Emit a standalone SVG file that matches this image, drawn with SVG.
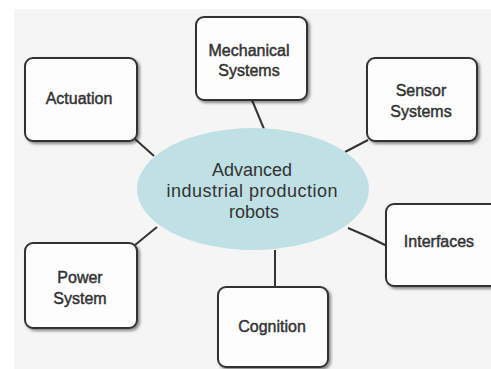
<svg xmlns="http://www.w3.org/2000/svg" width="491" height="369" viewBox="0 0 491 369">
<defs>
<filter id="sh" x="-20%" y="-20%" width="140%" height="140%">
<feDropShadow dx="2" dy="2" stdDeviation="1.5" flood-color="#000" flood-opacity="0.45"/>
</filter>
<style>
.box{fill:#fdfdfd;stroke:#333;stroke-width:2;filter:url(#sh)}
.lbl{font-family:"Liberation Sans",Arial,sans-serif;font-size:16px;fill:#333;stroke:#333;stroke-width:0.45;text-anchor:middle}
.ctr{font-family:"Liberation Sans",Arial,sans-serif;font-size:18px;fill:#333;text-anchor:middle}
.con{stroke:#333;stroke-width:2;fill:none}
</style>
</defs>
<rect width="491" height="369" fill="#ffffff"/>
<rect x="14" y="9" width="477" height="360" fill="#f5f5f5"/>
<g id="connectors">
<line class="con" x1="252" y1="100" x2="264" y2="129"/>
<line class="con" x1="135" y1="139" x2="154" y2="156"/>
<line class="con" x1="368" y1="140" x2="345" y2="152"/>
<path class="con" d="M348,228 Q368,236 387,246"/>
<line class="con" x1="157" y1="227" x2="135" y2="245"/>
<line class="con" x1="275" y1="250" x2="275" y2="287"/>
</g>
<g id="center">
<ellipse cx="253" cy="189" rx="116" ry="61" fill="#bfe0e5"/>
<text class="ctr" x="252" y="176">Advanced</text>
<text class="ctr" x="252" y="197" textLength="171" lengthAdjust="spacing">industrial production</text>
<text class="ctr" x="254" y="218">robots</text>
</g>
<g id="mechanical">
<rect class="box" x="196" y="17" width="111" height="83" rx="8"/>
<text class="lbl" x="249" y="56">Mechanical</text>
<text class="lbl" x="249" y="76">Systems</text>
</g>
<g id="actuation">
<rect class="box" x="25" y="58" width="112" height="83" rx="8"/>
<text class="lbl" x="79" y="104">Actuation</text>
</g>
<g id="sensor">
<rect class="box" x="367" y="58" width="110" height="83" rx="8"/>
<text class="lbl" x="421" y="96">Sensor</text>
<text class="lbl" x="421" y="117">Systems</text>
</g>
<g id="interfaces">
<rect class="box" x="386" y="204" width="115" height="82" rx="8"/>
<text class="lbl" x="439" y="247">Interfaces</text>
</g>
<g id="power">
<rect class="box" x="25" y="243" width="112" height="85" rx="8"/>
<text class="lbl" x="80" y="283">Power</text>
<text class="lbl" x="80" y="304">System</text>
</g>
<g id="cognition">
<rect class="box" x="218" y="287" width="110" height="80" rx="8"/>
<text class="lbl" x="272" y="332">Cognition</text>
</g>
</svg>
